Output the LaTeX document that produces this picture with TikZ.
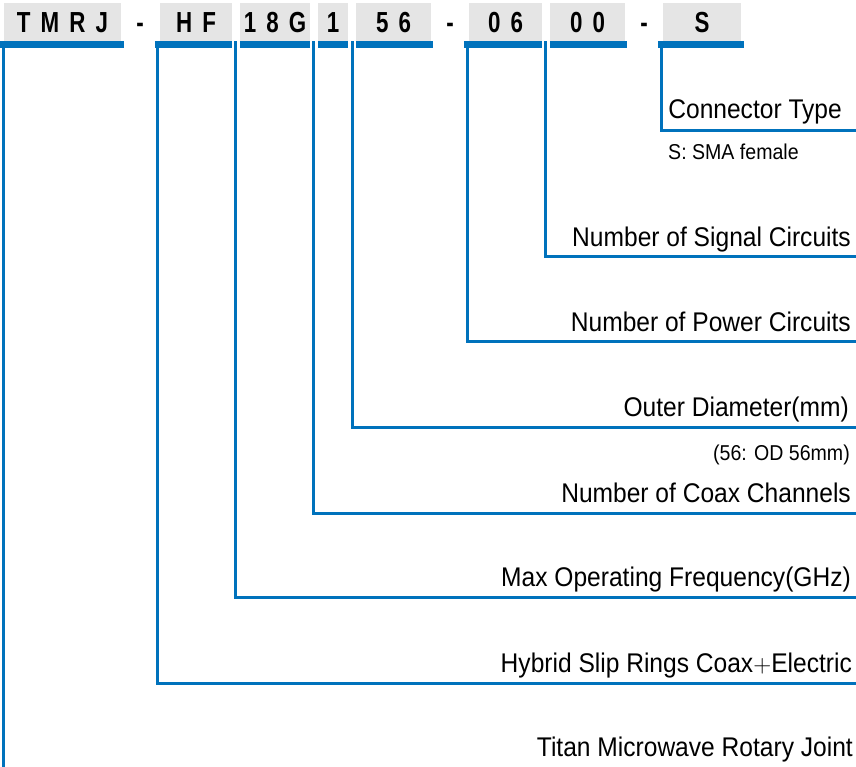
\documentclass[tikz,border=0pt]{standalone}
\usepackage{fontspec}
\setmainfont[FakeStretch=0.91]{Liberation Sans}
\newfontfamily\codefont[FakeStretch=0.77,LetterSpace=35]{Liberation Sans}
\usetikzlibrary{positioning}
\definecolor{leadblue}{RGB}{0,114,188}
\definecolor{boxgray}{RGB}{229,229,229}

\begin{document}
\begin{tikzpicture}[x=1pt,y=-1pt,
   code/.style={fill=boxgray,minimum height=38pt,inner sep=0pt,
     text height=21pt,text depth=0pt,
     font=\fontsize{29}{29}\codefont\bfseries},
   bar/.style={draw=leadblue,line width=7pt},
   lead/.style={draw=leadblue,line width=3pt},
   lab/.style={anchor=base east,inner sep=0pt,font=\fontsize{27}{27}\selectfont},
   note/.style={inner sep=0pt,font=\fontsize{21.5}{21.5}\selectfont}]
  \useasboundingbox (0,0) rectangle (856,767);
  % part number boxes
  \node[code,minimum width=117pt] (tmrj) at (62.5,22) {TMRJ};
  \node[code,fill=none] (d1) at (140,22) {-};
  \node[code,minimum width=72pt] (hf) at (196,22) {HF};
  \node[code,minimum width=70pt] (freq) at (275,22) {18G};
  \node[code,minimum width=30pt] (coax) at (333,22) {1};
  \node[code,minimum width=75pt] (od) at (393.5,22) {56};
  \node[code,fill=none] (d2) at (450,22) {-};
  \node[code,minimum width=73pt] (pwr) at (505.5,22) {06};
  \node[code,minimum width=75pt] (sig) at (587.5,22) {00};
  \node[code,fill=none] (d3) at (644,22) {-};
  \node[code,minimum width=78pt] (conn) at (702,22) {S};
  % underlines
  \draw[bar] ([xshift=-4pt,yshift=-3.5pt]tmrj.south west) -- ([xshift=3pt,yshift=-3.5pt]tmrj.south east);
  \draw[bar] ([xshift=-5pt,yshift=-3.5pt]hf.south west) -- ([yshift=-3.5pt]hf.south east);
  \draw[bar] ([yshift=-3.5pt]freq.south west) -- ([yshift=-3.5pt]freq.south east);
  \draw[bar] ([yshift=-3.5pt]coax.south west) -- ([yshift=-3.5pt]coax.south east);
  \draw[bar] ([yshift=-3.5pt]od.south west) -- ([xshift=2pt,yshift=-3.5pt]od.south east);
  \draw[bar] ([xshift=-5pt,yshift=-3.5pt]pwr.south west) -- ([yshift=-3.5pt]pwr.south east);
  \draw[bar] ([yshift=-3.5pt]sig.south west) -- ([xshift=2pt,yshift=-3.5pt]sig.south east);
  \draw[bar] ([xshift=-5pt,yshift=-3.5pt]conn.south west) -- ([xshift=3pt,yshift=-3.5pt]conn.south east);
  % line ends at the right edge
  \coordinate (connend) at (856,130.5);
  \coordinate (sigend) at (856,256.5);
  \coordinate (pwrend) at (856,341.5);
  \coordinate (odend) at (856,427);
  \coordinate (coaxend) at (856,513);
  \coordinate (freqend) at (856,597.5);
  \coordinate (hfend) at (856,683);
  \coordinate (tmrjend) at (856,767);
  % labels
  \node[lab] (connlab) at ([xshift=-14pt,yshift=12pt]connend) {Connector Type};
  \node[note,anchor=base west] (connnote) at (668,160) {S: SMA female};
  \node[lab] (siglab) at ([xshift=-5pt,yshift=10pt]sigend) {Number of Signal Circuits};
  \node[lab] (pwrlab) at ([xshift=-5pt,yshift=10pt]pwrend) {Number of Power Circuits};
  \node[lab] (odlab) at ([xshift=-7pt,yshift=11pt]odend) {Outer Diameter(mm)};
  \node[note,anchor=base east] (odnote) at (850,460) {(56: OD 56mm)};
  \node[lab] (coaxlab) at ([xshift=-5pt,yshift=11pt]coaxend) {Number of Coax Channels};
  \node[lab] (freqlab) at ([xshift=-5pt,yshift=11pt]freqend) {Max Operating Frequency(GHz)};
  \node[lab] (hflab) at ([xshift=-4pt,yshift=11pt]hfend) {Hybrid Slip Rings Coax$+$Electric};
  \node[lab] (tmrjlab) at ([xshift=-3pt,yshift=10.5pt]tmrjend) {Titan Microwave Rotary Joint};
  % leads
  \draw[lead] ([xshift=-1pt]conn.south west) |- (connend);
  \draw[lead] ([xshift=-4pt]sig.south west) |- (sigend);
  \draw[lead] ([xshift=-1pt]pwr.south west) |- (pwrend);
  \draw[lead] ([xshift=-3.5pt]od.south west) |- (odend);
  \draw[lead] ([xshift=-4.5pt]coax.south west) |- (coaxend);
  \draw[lead] ([xshift=-4pt]freq.south west) |- (freqend);
  \draw[lead] ([xshift=-2pt]hf.south west) |- (hfend);
  \draw[lead] (tmrj.south west) -- (tmrj.south west |- tmrjend);
\end{tikzpicture}
\end{document}
